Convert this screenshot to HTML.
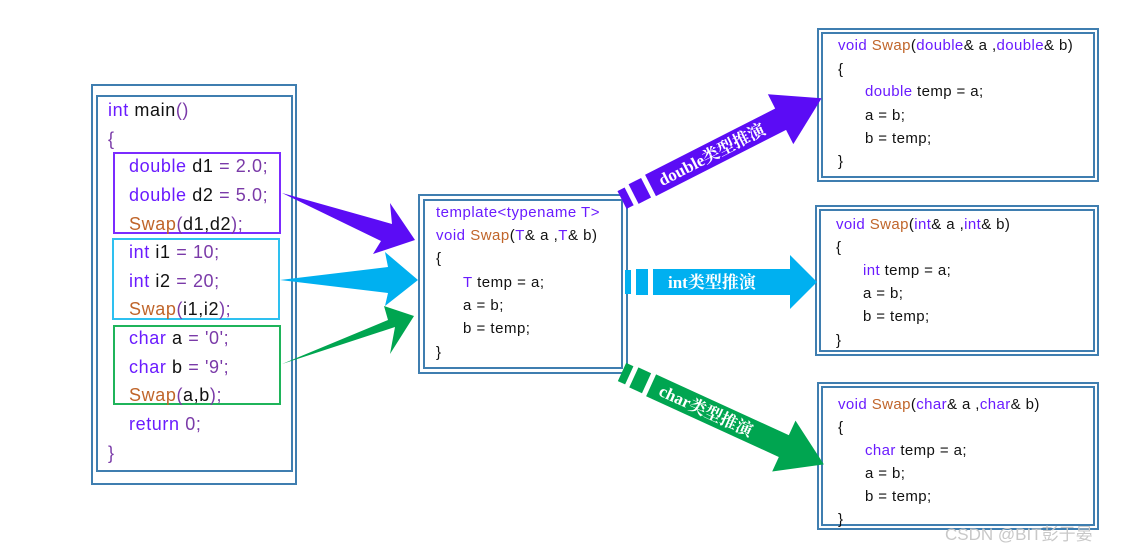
<!DOCTYPE html>
<html><head><meta charset="utf-8"><style>
body{margin:0;background:#fff;width:1125px;height:553px;overflow:hidden}
svg text{font-family:"Liberation Sans","Noto Sans CJK SC",sans-serif}
.k{fill:#6a1bff}.f{fill:#c0652a}.n{fill:#7a3aa8}.b{fill:#111}
.lab{font-family:"Liberation Serif","Noto Serif CJK SC",serif !important;font-weight:bold;fill:#fff;font-size:17px}
</style></head><body>
<svg width="1125" height="553" xmlns="http://www.w3.org/2000/svg">
<g fill="none" stroke="#3f7eb0" stroke-width="2">
<rect x="92" y="85" width="204" height="399"/><rect x="97" y="96" width="195" height="375"/>
<rect x="419" y="195" width="208" height="178"/><rect x="424" y="200" width="198" height="168"/>
<rect x="818" y="29" width="280" height="152"/><rect x="822" y="33" width="272" height="144"/>
<rect x="816" y="206" width="282" height="149"/><rect x="820" y="210" width="274" height="141"/>
<rect x="818" y="383" width="280" height="146"/><rect x="822" y="387" width="272" height="138"/>
</g>
<rect x="114" y="153" width="166" height="80" fill="none" stroke="#7b2bff" stroke-width="2"/>
<rect x="113" y="239" width="166" height="80" fill="none" stroke="#2ec0f0" stroke-width="2"/>
<rect x="114" y="326" width="166" height="78" fill="none" stroke="#1fb45a" stroke-width="2"/>
<g font-size="18" letter-spacing="0.6">
<text x="108" y="116"><tspan class="k">int</tspan><tspan class="b"> main</tspan><tspan class="n">()</tspan></text>
<text x="108" y="145" class="n">{</text>
<text x="129" y="172"><tspan class="k">double</tspan><tspan class="b"> d1 </tspan><tspan class="n">= 2.0;</tspan></text>
<text x="129" y="201"><tspan class="k">double</tspan><tspan class="b"> d2 </tspan><tspan class="n">= 5.0;</tspan></text>
<text x="129" y="230"><tspan class="f">Swap</tspan><tspan class="n">(</tspan><tspan class="b">d1,d2</tspan><tspan class="n">);</tspan></text>
<text x="129" y="258"><tspan class="k">int</tspan><tspan class="b"> i1 </tspan><tspan class="n">= 10;</tspan></text>
<text x="129" y="287"><tspan class="k">int</tspan><tspan class="b"> i2 </tspan><tspan class="n">= 20;</tspan></text>
<text x="129" y="315"><tspan class="f">Swap</tspan><tspan class="n">(</tspan><tspan class="b">i1,i2</tspan><tspan class="n">);</tspan></text>
<text x="129" y="344"><tspan class="k">char</tspan><tspan class="b"> a </tspan><tspan class="n">= '0';</tspan></text>
<text x="129" y="373"><tspan class="k">char</tspan><tspan class="b"> b </tspan><tspan class="n">= '9';</tspan></text>
<text x="129" y="401"><tspan class="f">Swap</tspan><tspan class="n">(</tspan><tspan class="b">a,b</tspan><tspan class="n">);</tspan></text>
<text x="129" y="430" class="k">return <tspan class="n">0;</tspan></text>
<text x="108" y="459" class="n">}</text>
</g>
<g font-size="15" letter-spacing="0.5" class="b">
<text x="436" y="217"><tspan class="k">template&lt;typename T&gt;</tspan></text>
<text x="436" y="240"><tspan class="k">void</tspan> <tspan class="f">Swap</tspan>(<tspan class="k">T</tspan>&amp; a ,<tspan class="k">T</tspan>&amp; b)</text>
<text x="436" y="263">{</text>
<text x="463" y="287"><tspan class="k">T</tspan> temp = a;</text>
<text x="463" y="310">a = b;</text>
<text x="463" y="333">b = temp;</text>
<text x="436" y="357">}</text>
</g>
<g font-size="15" letter-spacing="0.4" class="b">
<text x="838" y="50"><tspan class="k">void</tspan> <tspan class="f">Swap</tspan>(<tspan class="k">double</tspan>&amp; a ,<tspan class="k">double</tspan>&amp; b)</text>
<text x="838" y="74">{</text>
<text x="865" y="96"><tspan class="k">double</tspan> temp = a;</text>
<text x="865" y="120">a = b;</text>
<text x="865" y="143">b = temp;</text>
<text x="838" y="166">}</text>

<text x="836" y="229"><tspan class="k">void</tspan> <tspan class="f">Swap</tspan>(<tspan class="k">int</tspan>&amp; a ,<tspan class="k">int</tspan>&amp; b)</text>
<text x="836" y="252">{</text>
<text x="863" y="275"><tspan class="k">int</tspan> temp = a;</text>
<text x="863" y="298">a = b;</text>
<text x="863" y="321">b = temp;</text>
<text x="836" y="345">}</text>

<text x="838" y="409"><tspan class="k">void</tspan> <tspan class="f">Swap</tspan>(<tspan class="k">char</tspan>&amp; a ,<tspan class="k">char</tspan>&amp; b)</text>
<text x="838" y="432">{</text>
<text x="865" y="455"><tspan class="k">char</tspan> temp = a;</text>
<text x="865" y="478">a = b;</text>
<text x="865" y="501">b = temp;</text>
<text x="838" y="524">}</text>
</g>
<polygon points="282,193 392,224 390,203 415,240 373,254 381,241" fill="#5b0cf5"/>
<polygon points="280,280 388,267 385,252 418,280 385,306 388,293" fill="#00b0f0"/>
<polygon points="282,364 395,327 390,354 414,316 384,306 388,320" fill="#00a550"/>
<g transform="translate(622,200) rotate(-27)" fill="#5b0cf5">
<rect x="0" y="-10" width="8" height="20"/><rect x="13" y="-11" width="14" height="22"/>
<rect x="32" y="-12" width="148" height="24"/><polygon points="178,-28 224,0 178,28"/>
<text x="42" y="6" class="lab">double类型推演</text></g>
<g fill="#00b0f0">
<rect x="625" y="270" width="6" height="24"/><rect x="636" y="269" width="12" height="26"/>
<rect x="653" y="269" width="140" height="26"/><polygon points="790,255 817,282 790,309"/>
<text x="668" y="288" class="lab">int类型推演</text></g>
<g transform="translate(622,372) rotate(24.6)" fill="#00a550">
<rect x="0" y="-10" width="8" height="20"/><rect x="13" y="-11" width="14" height="22"/>
<rect x="32" y="-12" width="148" height="24"/><polygon points="178,-28 222,0 178,28"/>
<text x="42" y="6" class="lab">char类型推演</text></g>
<text x="945" y="540" font-size="17" fill="#c8c8c8">CSDN @BIT彭于晏</text>
</svg>
</body></html>
